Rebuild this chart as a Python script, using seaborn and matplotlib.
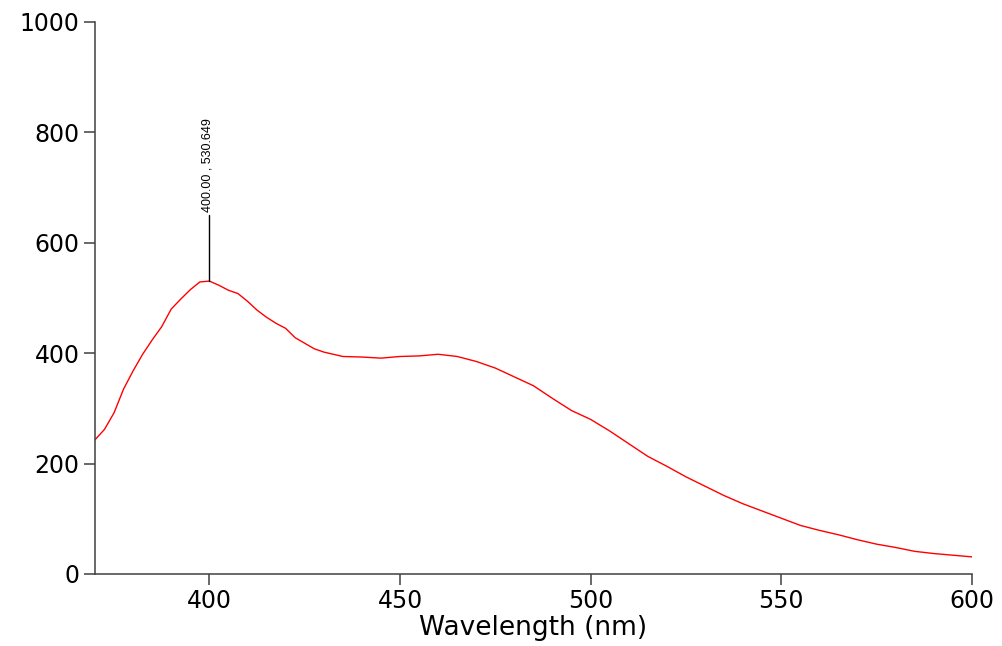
import matplotlib
matplotlib.use('Agg')
import matplotlib.pyplot as plt
import pandas as pd
import seaborn as sns

# spectrum
wavelength = [370, 372.5, 375, 377.5, 380, 382.5, 385, 387.5, 390, 392.5, 395, 397.5,
              400, 402.5, 405, 407.5, 410, 412.5, 415, 417.5, 420, 422.5, 425, 427.5,
              430, 435, 440, 445, 450, 455, 460, 465, 470, 475, 480, 485, 490, 495,
              500, 505, 510, 515, 520, 525, 530, 535, 540, 545, 550, 555, 560, 565,
              570, 575, 580, 585, 590, 595, 600]
intensity = [243, 262, 292, 335, 368, 398, 424, 448, 480, 498, 515, 529,
             530.6, 523, 514, 508, 494, 478, 465, 454, 445, 428, 418, 408,
             402, 394, 393, 391, 394, 395, 398, 394, 385, 373, 357, 341, 318, 296,
             280, 259, 236, 213, 195, 176, 159, 142, 127, 114, 101, 88, 79, 71,
             62, 54, 48, 41, 37, 34, 31]
peak_x = 400.00
peak_y = 530.649
x_ticks = [400, 450, 500, 550, 600]
y_ticks = [0, 200, 400, 600, 800, 1000]

df = pd.DataFrame({'wl': wavelength, 'val': intensity})

sns.set_style('white')
plt.rcParams['font.family'] = ['DejaVu Sans']
plt.rcParams['text.color'] = 'black'
plt.rcParams['axes.labelcolor'] = 'black'

fig = plt.figure(figsize=(10.03, 6.46), dpi=100)
ax = fig.add_axes([0.0947, 0.1115, 0.8743, 0.8545])

sns.lineplot(data=df, x='wl', y='val', color='red', linewidth=1.0, ax=ax)

# peak marker
ax.plot([peak_x, peak_x], [peak_y, 650], color='black', linewidth=1.0)
ax.text(peak_x - 0.4, 655, '%.2f , %.3f' % (peak_x, peak_y), rotation=90,
        ha='center', va='bottom', fontsize=9, family='Liberation Sans')

ax.set_xlim(370, 600)
ax.set_ylim(0, 1000)
ax.set_xticks(x_ticks)
ax.set_yticks(y_ticks)
ax.set_xlabel('Wavelength (nm)', fontsize=19, labelpad=1)
ax.set_ylabel('')
ax.tick_params(axis='both', direction='out', length=8, width=1.1, color='#404040',
               labelsize=17, labelcolor='black', pad=3, bottom=True, left=True)
sns.despine(ax=ax)
for s in ['left', 'bottom']:
    ax.spines[s].set_color('#404040')
    ax.spines[s].set_linewidth(1.1)

plt.savefig('out.png', dpi=100)
